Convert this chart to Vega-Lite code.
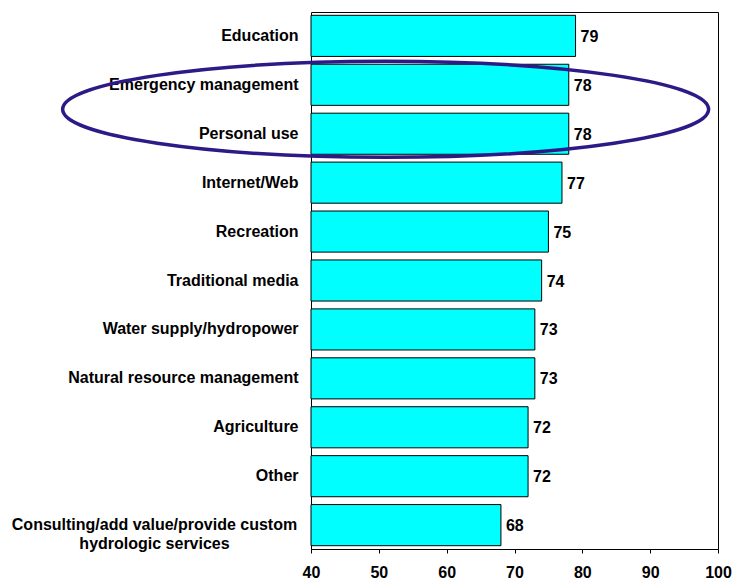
{
  "$schema": "https://vega.github.io/schema/vega-lite/v6.json",
  "autosize": {"type": "none"},
  "padding": {"left": 311, "top": 12, "right": 14, "bottom": 31},
  "width": 407,
  "height": 537,
  "background": "white",
  "config": {
    "view": {"stroke": "black", "strokeWidth": 1},
    "font": "Liberation Sans"
  },
  "data": {
    "values": [
      {"category": "Education", "pct": 79},
      {"category": "Emergency management", "pct": 78},
      {"category": "Personal use", "pct": 78},
      {"category": "Internet/Web", "pct": 77},
      {"category": "Recreation", "pct": 75},
      {"category": "Traditional media", "pct": 74},
      {"category": "Water supply/hydropower", "pct": 73},
      {"category": "Natural resource management", "pct": 73},
      {"category": "Agriculture", "pct": 72},
      {"category": "Other", "pct": 72},
      {"category": "Consulting/add value/provide custom hydrologic services", "pct": 68}
    ]
  },
  "encoding": {
    "y": {
      "field": "category",
      "type": "nominal",
      "scale": {
        "domain": ["Education", "Emergency management", "Personal use", "Internet/Web", "Recreation", "Traditional media", "Water supply/hydropower", "Natural resource management", "Agriculture", "Other", "Consulting/add value/provide custom hydrologic services"],
        "paddingInner": 0.16,
        "paddingOuter": 0.068
      },
      "axis": {
        "title": null,
        "domain": false,
        "ticks": false,
        "labelFont": "Liberation Sans",
        "labelFontWeight": "bold",
        "labelFontSize": 16,
        "labelColor": "black",
        "labelLimit": 400,
        "labelLineHeight": 19,
        "labelAlign": {"condition": {"test": "indexof(datum.value, 'Consulting') == 0", "value": "center"}, "value": "right"},
        "labelPadding": {"condition": {"test": "indexof(datum.value, 'Consulting') == 0", "value": 157}, "value": 13},
        "labelExpr": "indexof(datum.value, 'Consulting') == 0 ? ['Consulting/add value/provide custom', 'hydrologic services'] : datum.label"
      }
    }
  },
  "layer": [
    {
      "mark": {"type": "bar", "color": "#00FFFF", "stroke": "black", "strokeWidth": 1},
      "encoding": {
        "x": {
          "field": "pct",
          "type": "quantitative",
          "scale": {"domain": [40, 100], "zero": false, "nice": false},
          "axis": {
            "title": null,
            "values": [40, 50, 60, 70, 80, 90, 100],
            "grid": false,
            "domainColor": "black",
            "tickColor": "black",
            "tickSize": 4,
            "labelFont": "Liberation Sans",
            "labelFontWeight": "bold",
            "labelFontSize": 16,
            "labelColor": "black",
            "labelPadding": 11,
            "labelFlush": false
          }
        },
        "x2": {"datum": 40}
      }
    },
    {
      "mark": {"type": "text", "align": "left", "baseline": "middle", "dx": 5, "dy": 1, "font": "Liberation Sans", "fontWeight": "bold", "fontSize": 16, "color": "black"},
      "encoding": {
        "x": {"field": "pct", "type": "quantitative"},
        "text": {"field": "pct", "type": "quantitative"}
      }
    },
    {
      "data": {"values": [{"note": "highlight"}]},
      "mark": {
        "type": "point",
        "shape": "M -1 0 A 1 0.1486 0 1 1 1 0 A 1 0.1486 0 1 1 -1 0 Z",
        "size": 417316,
        "filled": false,
        "stroke": "#2E1A87",
        "strokeWidth": 3.5,
        "opacity": 1,
        "yOffset": 24.5
      },
      "encoding": {
        "x": {"datum": 51, "type": "quantitative"},
        "y": {"datum": "Emergency management", "type": "nominal"}
      }
    }
  ]
}
